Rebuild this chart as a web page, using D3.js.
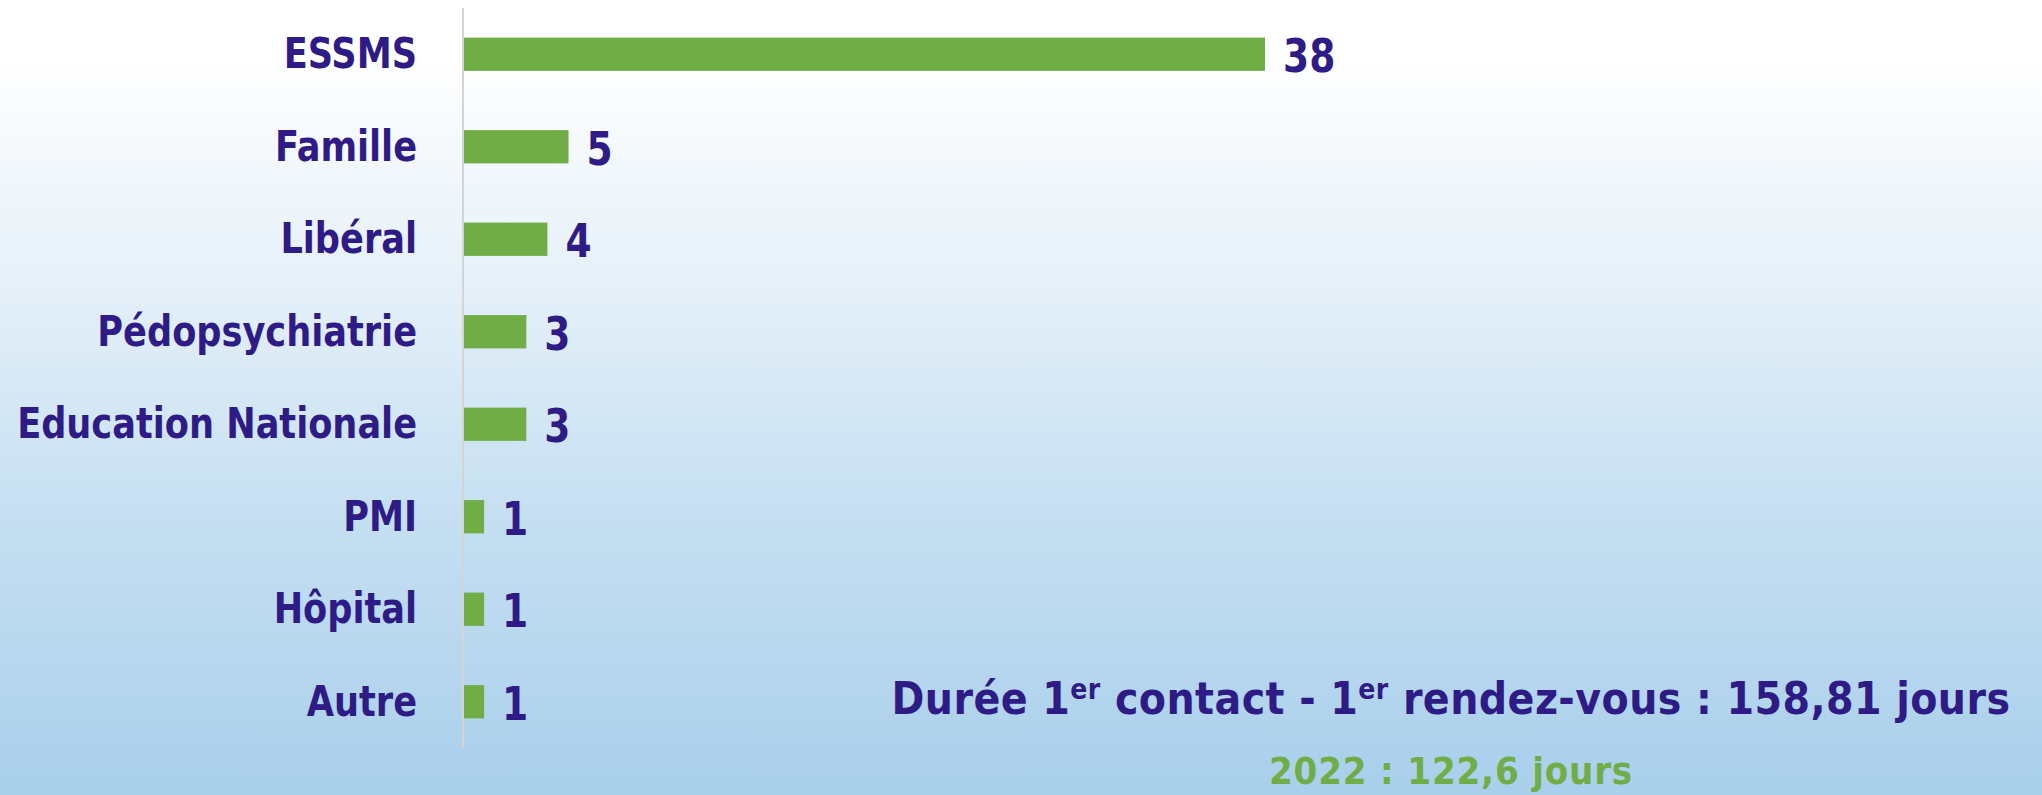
<!DOCTYPE html>
<html>
<head>
<meta charset="utf-8">
<script src="https://cdn.jsdelivr.net/npm/d3@7"></script>
<style>
  html, body { margin: 0; padding: 0; }
  body { width: 2042px; height: 795px; overflow: hidden; }
</style>
</head>
<body>
<div id="chart"></div>
<script>
// data
var categories = ["ESSMS", "Famille", "Libéral", "Pédopsychiatrie", "Education Nationale", "PMI", "Hôpital", "Autre"];
var values = [38, 5, 4, 3, 3, 1, 1, 1];
var mainNote = ["Durée 1", "er", " contact - 1", "er", " rendez-vous : 158,81 jours"];
var prevNote = "2022 : 122,6 jours";

var width = 2042, height = 795;
var navy = "#2e1b86", green = "#70ad47";
var labelFont = "'Liberation Sans Narrow', 'Arial Narrow', 'DejaVu Sans Condensed', sans-serif";
var noteFont = "'DejaVu Sans Condensed', 'DejaVu Sans', sans-serif";

var svg = d3.select("#chart").append("svg")
    .attr("width", width)
    .attr("height", height);

// background gradient
var grad = svg.append("defs").append("linearGradient")
    .attr("id", "bg")
    .attr("x1", 0).attr("y1", 0).attr("x2", 0).attr("y2", 1);
grad.append("stop").attr("offset", "0.07").attr("stop-color", "#ffffff");
grad.append("stop").attr("offset", "0.38").attr("stop-color", "#e3eff8");
grad.append("stop").attr("offset", "0.63").attr("stop-color", "#c7e0f2");
grad.append("stop").attr("offset", "1").attr("stop-color", "#a9cfeb");

svg.append("rect")
    .attr("width", width)
    .attr("height", height)
    .attr("fill", "url(#bg)");

// scales
var x = d3.scaleLinear()
    .domain([0, 38])
    .range([463, 1265]);

var y = d3.scaleBand()
    .domain(categories)
    .range([8, 748])
    .paddingInner(0.64)
    .paddingOuter(0.32);

// bars
svg.selectAll(".bar")
    .data(values)
    .enter().append("rect")
    .attr("class", "bar")
    .attr("x", x(0))
    .attr("y", function(d, i) { return y(categories[i]); })
    .attr("width", function(d) { return x(d) - x(0); })
    .attr("height", y.bandwidth())
    .attr("fill", green);

// axis line
svg.append("line")
    .attr("x1", x(0)).attr("x2", x(0))
    .attr("y1", y.range()[0]).attr("y2", y.range()[1])
    .attr("stroke", "#d4d4d4")
    .attr("stroke-width", 2);

// the reference font is narrower (Calibri) - squeeze the text horizontally
var probe = svg.append("text")
    .style("font-family", labelFont)
    .style("font-weight", "bold")
    .style("font-size", "43px")
    .text("Education Nationale");
var squeeze = Math.min(1, 400 / probe.node().getComputedTextLength());
probe.remove();

// category labels
var capShift = 14;
svg.selectAll(".cat")
    .data(categories)
    .enter().append("text")
    .attr("class", "cat")
    .attr("transform", function(d) {
        return "translate(417," + (y(d) + y.bandwidth() / 2 + capShift) + ") scale(" + squeeze + ",1)";
    })
    .attr("text-anchor", "end")
    .style("font-family", labelFont)
    .style("font-weight", "bold")
    .style("font-size", "43px")
    .style("fill", navy)
    .text(function(d) { return d; });

// value labels
svg.selectAll(".val")
    .data(values)
    .enter().append("text")
    .attr("class", "val")
    .attr("transform", function(d, i) {
        return "translate(" + (x(d) + 18) + "," + (y(categories[i]) + y.bandwidth() / 2 + capShift + 4) + ") scale(" + squeeze + ",1)";
    })
    .style("font-family", labelFont)
    .style("font-weight", "bold")
    .style("font-size", "46px")
    .style("fill", navy)
    .text(function(d) { return d; });

// notes
var note = svg.append("text")
    .attr("x", 1451)
    .attr("y", 714)
    .attr("text-anchor", "middle")
    .style("font-family", noteFont)
    .style("font-weight", "bold")
    .style("font-size", "44px")
    .style("fill", navy);

note.selectAll("tspan")
    .data(mainNote)
    .enter().append("tspan")
    .attr("dy", function(d, i) { return i % 2 === 1 ? -15 : (i === 0 ? 0 : 15); })
    .style("font-size", function(d, i) { return i % 2 === 1 ? "28px" : null; })
    .text(function(d) { return d; });

var prev = svg.append("text")
    .attr("x", 1451)
    .attr("y", 784)
    .attr("text-anchor", "middle")
    .style("font-family", noteFont)
    .style("font-weight", "bold")
    .style("font-size", "38px")
    .style("fill", green)
    .text(prevNote);

// spread the notes to the reference widths
function fitSpacing(sel, target, n) {
    var len = sel.node().getComputedTextLength();
    sel.style("letter-spacing", Math.max(0, (target - len) / n) + "px");
}
fitSpacing(note, 1119, mainNote.join("").length);
fitSpacing(prev, 364, prevNote.length);
</script>
</body>
</html>
